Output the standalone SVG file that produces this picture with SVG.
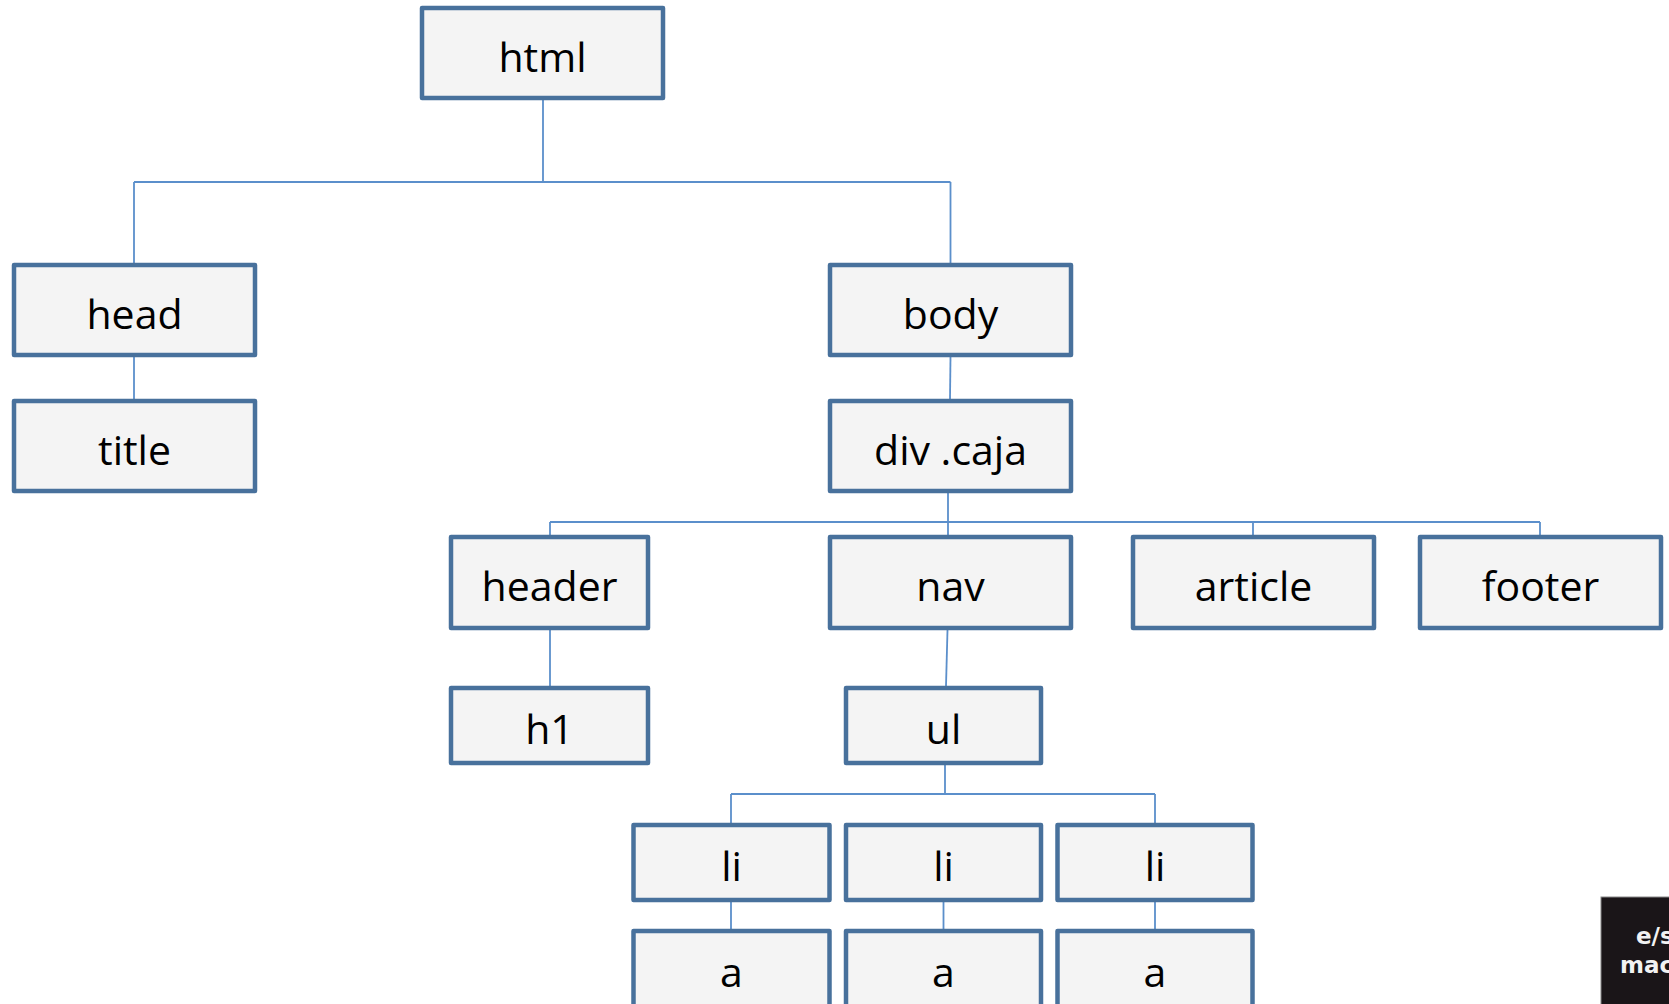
<svg xmlns="http://www.w3.org/2000/svg" width="1669" height="1004" viewBox="0 0 1669 1004">
<style>
.box{fill:#f4f4f4;stroke:#48719c;stroke-width:4.5;stroke-linejoin:round}
.lbl{font-family:"Open Sans","Liberation Sans",sans-serif;font-size:41px;fill:#000;text-anchor:middle}
.con{fill:none;stroke:#5b8fcb;stroke-width:1.8}
.bt{font-family:"DejaVu Sans",sans-serif;font-weight:bold;font-size:23px;fill:#f2f2f2}
</style>
<rect width="1669" height="1004" fill="#ffffff"/>
<g id="connectors" class="con">
<path d="M543 100V182M134 182H950.5M134 182V263M950.5 182V263"/>
<path d="M134 357V399"/>
<path d="M950.5 357L950 399"/>
<path d="M948 493V522M550 522H1540M550 522V535M948 522V535M1253 522V535M1540 522V535"/>
<path d="M550 630V686"/>
<path d="M947.5 630L946 686"/>
<path d="M945 765V794M731 794H1155M731 794V823M1155 794V823"/>
<path d="M731 902V929M943.5 902V929M1155 902V929"/>
</g>
<g id="n-html"><rect class="box" x="422" y="8" width="241" height="90"/><text class="lbl" x="542.5" y="72">html</text></g>
<g id="n-head"><rect class="box" x="14" y="265" width="241" height="90"/><text class="lbl" x="134.5" y="329">head</text></g>
<g id="n-title"><rect class="box" x="14" y="401" width="241" height="90"/><text class="lbl" x="134.5" y="465">title</text></g>
<g id="n-body"><rect class="box" x="830" y="265" width="241" height="90"/><text class="lbl" x="950.5" y="329">body</text></g>
<g id="n-div"><rect class="box" x="830" y="401" width="241" height="90"/><text class="lbl" x="950.5" y="465">div .caja</text></g>
<g id="n-header"><rect class="box" x="451" y="537" width="197" height="91"/><text class="lbl" x="549.5" y="601">header</text></g>
<g id="n-nav"><rect class="box" x="830" y="537" width="241" height="91"/><text class="lbl" x="950.5" y="601">nav</text></g>
<g id="n-article"><rect class="box" x="1133" y="537" width="241" height="91"/><text class="lbl" x="1253.5" y="601">article</text></g>
<g id="n-footer"><rect class="box" x="1420" y="537" width="241" height="91"/><text class="lbl" x="1540.5" y="601">footer</text></g>
<g id="n-h1"><rect class="box" x="451" y="688" width="197" height="75"/><text class="lbl" x="549.5" y="744">h1</text></g>
<g id="n-ul"><rect class="box" x="846" y="688" width="195" height="75"/><text class="lbl" x="943.5" y="744">ul</text></g>
<g id="n-li1"><rect class="box" x="633.5" y="825" width="196" height="75"/><text class="lbl" x="731.5" y="881">li</text></g>
<g id="n-li2"><rect class="box" x="846" y="825" width="195" height="75"/><text class="lbl" x="943.5" y="881">li</text></g>
<g id="n-li3"><rect class="box" x="1057.5" y="825" width="195" height="75"/><text class="lbl" x="1155" y="881">li</text></g>
<g id="n-a1"><rect class="box" x="633.5" y="931" width="196" height="80"/><text class="lbl" x="731.5" y="987">a</text></g>
<g id="n-a2"><rect class="box" x="846" y="931" width="195" height="80"/><text class="lbl" x="943.5" y="987">a</text></g>
<g id="n-a3"><rect class="box" x="1057.5" y="931" width="195" height="80"/><text class="lbl" x="1155" y="987">a</text></g>
<g id="badge">
<rect x="1601" y="897" width="80" height="120" fill="#1a1518" stroke="#888" stroke-width="1"/>
<text class="bt" x="1636" y="944">e/s</text>
<text class="bt" x="1620" y="973">mac</text>
</g>
</svg>
